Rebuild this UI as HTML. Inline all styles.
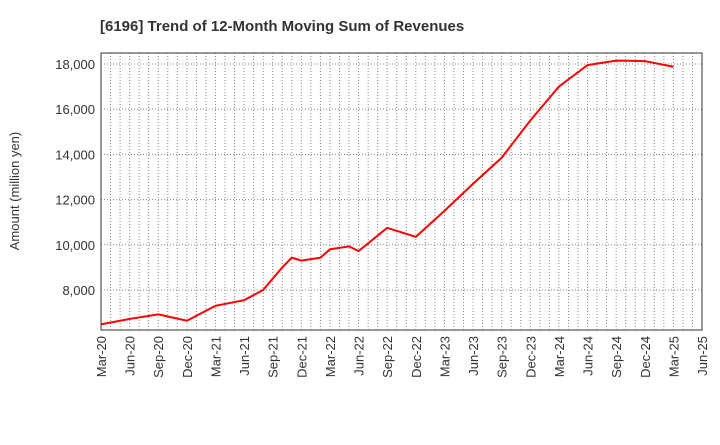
<!DOCTYPE html>
<html><head><meta charset="utf-8"><style>
body{margin:0;background:#fff;font-family:"Liberation Sans",sans-serif}
</style></head><body>
<svg id="c" width="720" height="440" xmlns="http://www.w3.org/2000/svg">
<text x="100" y="31" font-size="15" font-weight="bold" fill="#333">[6196]  Trend of 12-Month Moving Sum of Revenues</text>
<text transform="translate(19,191) rotate(-90)" text-anchor="middle" font-size="13" fill="#333">Amount (million yen)</text>
<g id="grid"></g><g id="ticks"></g><g id="line"></g>
<rect x="101" y="53" width="601" height="277" fill="none" stroke="#333"/>
</svg>
<script>
const monthIdx=[0,3,6,9,12,15,17,18,19,20,21,23,24,26,27,30,33,36,39,42,45,48,51,54,57,60];
const values=[6480,6720,6920,6640,7300,7550,8000,8500,9000,9430,9300,9430,9800,9930,9720,10750,10350,11500,12700,13850,15500,17000,17950,18150,18130,17880];
const xLabels=["Mar-20","Jun-20","Sep-20","Dec-20","Mar-21","Jun-21","Sep-21","Dec-21","Mar-22","Jun-22","Sep-22","Dec-22","Mar-23","Jun-23","Sep-23","Dec-23","Mar-24","Jun-24","Sep-24","Dec-24","Mar-25","Jun-25"];
const yTicks=[8000,10000,12000,14000,16000,18000];
const X0=101,X1=702,Y0=330,Y1=53,VMIN=6230,VMAX=18487,MMAX=63;
const x=m=>X0+(X1-X0)*m/MMAX, y=v=>Y0-(Y0-Y1)*(v-VMIN)/(VMAX-VMIN);
const NS="http://www.w3.org/2000/svg";
function mk(t,a,p){const e=document.createElementNS(NS,t);for(const k in a)e.setAttribute(k,a[k]);document.getElementById(p).appendChild(e);return e;}
for(let m=0;m<=MMAX;m++){const l=mk('line',{x1:x(m),x2:x(m),y1:Y1,y2:Y0,stroke:'#888','stroke-dasharray':'1,2','stroke-width':1},'grid');

}
yTicks.forEach(v=>{const l=mk('line',{x1:X0,x2:X1,y1:y(v),y2:y(v),stroke:'#888','stroke-dasharray':'1,2'},'grid');


const t=mk('text',{x:X0-6,y:y(v)+5,'text-anchor':'end','font-size':13,fill:'#333'},'ticks');t.textContent=v.toLocaleString('en-US');

});
xLabels.forEach((s,i)=>{const px=x(i*3);const t=mk('text',{transform:`translate(${px+5},336) rotate(-90)`,'text-anchor':'end','font-size':13,fill:'#333'},'ticks');t.textContent=s;

});
const p=mk('polyline',{points:monthIdx.map((m,i)=>x(m)+','+y(values[i])).join(' '),fill:'none',stroke:'#f00','stroke-width':2},'line');


</script>
</body></html>
